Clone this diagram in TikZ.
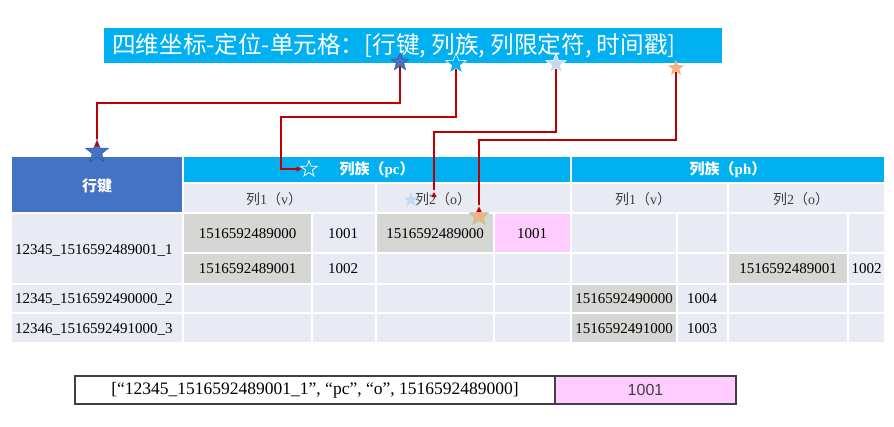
\documentclass[tikz,border=0pt]{standalone}
\usepackage{fontspec}
\setmainfont{Liberation Serif}
\newfontfamily\cjk{Noto Sans CJK SC}
\newfontfamily\arial{Liberation Sans}
\usetikzlibrary{shapes.geometric,arrows.meta}
\definecolor{banner}{HTML}{00B0F0}
\definecolor{keyblue}{HTML}{4472C4}
\definecolor{keyline}{HTML}{2F528F}
\definecolor{lav}{HTML}{E8EAF4}
\definecolor{cellgrey}{HTML}{D6D6D4}
\definecolor{cellpink}{HTML}{FFCCFF}
\definecolor{arrowred}{HTML}{C00000}
\definecolor{pale}{HTML}{C5D9F1}
\definecolor{peach}{HTML}{F4B183}
\definecolor{subtext}{HTML}{404040}
\newcommand{\zh}[1]{{\cjk #1}}

\begin{document}
\begin{tikzpicture}
	[x=1pt,y=-1pt,
	cell/.style={draw=white,line width=1.5pt},
	txt/.style={inner sep=1pt,font=\fontsize{15}{18}\selectfont},
	head/.style={text=white,font=\bfseries\fontsize{15}{18}\selectfont},
	sub/.style={text=subtext,font=\fontsize{14}{17}\selectfont},
	starmark/.style={star,star points=5,star point ratio=2.4,inner sep=0pt},
	conn/.style={arrowred,line width=1.3pt,shorten >=2pt,-{Triangle[length=5pt,width=5pt]}}]
	\useasboundingbox (0,0) rectangle (894,426);
	
	% title
	\fill[banner] (104,28) rectangle (722,63);
	\node[anchor=west,inner sep=0pt,text=white,font=\cjk\fontsize{23.6}{24}\selectfont] (title) at (112,46) {四维坐标-定位-单元格：[行键, 列族, 列限定符, 时间戳]};
	
	% table
	\foreach \xa/\ya/\xb/\yb/\c in {11/156/183/213/keyblue,183/156/571/183/banner,571/156/885/183/banner,
		183/183/376/213/lav,376/183/571/213/lav,571/183/728/213/lav,728/183/885/213/lav,
		11/213/183/284/lav,11/284/183/313/lav,11/313/183/343/lav}
	\filldraw[cell,fill=\c] (\xa,\ya) rectangle (\xb,\yb);
	\foreach \xa/\xb in {183/312,312/376,376/494,494/571,571/677,677/728,728/848,848/885}
	\foreach \ya/\yb in {213/253,253/284,284/313,313/343}
	\filldraw[cell,fill=lav] (\xa,\ya) rectangle (\xb,\yb);
	\foreach \xa/\ya/\xb/\yb/\c in {183/213/312/253/cellgrey,376/213/494/253/cellgrey,494/213/571/253/cellpink,
		183/253/312/284/cellgrey,728/253/848/284/cellgrey,571/284/677/313/cellgrey,571/313/677/343/cellgrey}
	\filldraw[cell,fill=\c] (\xa,\ya) rectangle (\xb,\yb);
	
	\node[head] (rk) at (97,186) {\zh{行键}};
	\node[head] (pc) at (377,170) {\zh{列族（}pc\zh{）}};
	\node[head] (ph) at (728,170) {\zh{列族（}ph\zh{）}};
	\node[sub] (c1) at (274,199) {\zh{列}1\zh{（}v\zh{）}};
	\node[sub] (c2) at (443,199) {\zh{列}2\zh{（}o\zh{）}};
	\node[sub] (c3) at (643,199) {\zh{列}1\zh{（}v\zh{）}};
	\node[sub] (c4) at (801,199) {\zh{列}2\zh{（}o\zh{）}};
	
	\node[txt,anchor=west] (r1) at (14,250) {12345\_1516592489001\_1};
	\node[txt,anchor=west] (r2) at (14,299) {12345\_1516592490000\_2};
	\node[txt,anchor=west] (r3) at (14,329) {12346\_1516592491000\_3};
	\foreach \x/\y/\t [count=\i] in {247.5/234/1516592489000,343/234/1001,435/234/1516592489000,532/234/1001,
		247.5/268.5/1516592489001,343/268.5/1002,788/268.5/1516592489001,866.5/268.5/1002,
		624/299/1516592490000,702/299/1004,624/329/1516592491000,702/329/1003}
	\node[txt] (d\i) at (\x,\y) {\t};
	
	% cell address
	\node[draw=subtext,line width=1.2pt,minimum width=480pt,minimum height=28pt,inner sep=1pt,font=\fontsize{17.5}{20}\selectfont] (addr) at (315,390) {[“12345\_1516592489001\_1”, “pc”, “o”, 1516592489000]};
	\node[draw=subtext,line width=1.2pt,fill=cellpink,minimum width=181pt,minimum height=28pt,text=subtext,font=\arial\fontsize{16}{18}\selectfont] (val) at (645.5,390) {1001};
	
	% stars
	\node[starmark,fill=keyblue,draw=keyline,line width=.5pt,minimum size=19pt] (t1) at (400,62) {};
	\node[starmark,fill=banner,draw=white,line width=.6pt,minimum size=22pt] (t2) at (456,64) {};
	\node[starmark,fill=pale,draw=white,line width=.6pt,minimum size=21pt] (t3) at (556,64) {};
	\node[starmark,fill=peach,minimum size=17pt] (t4) at (676,68) {};
	\node[starmark,fill=keyblue,draw=keyline,line width=.5pt,minimum size=24pt] (k) at (97,152) {};
	\node[starmark,draw=white,line width=.8pt,minimum size=17pt] (h) at (309,169) {};
	\node[starmark,fill=pale,minimum size=15pt] (p) at (411,200) {};
	\node[starmark,fill=peach,draw=green!40!gray!60,line width=.4pt,minimum size=21pt] (o) at (479,216) {};
	\coordinate (q) at (434,190);
	
	\foreach \from/\x/\y/\to in {t1/97/103/k.north,t2/281/117/h.west,t3/434/132/q,t4/479/140/o.north}
	\draw[conn] (\from.south) |- (\x,\y) |- (\to);
\end{tikzpicture}
\end{document}
